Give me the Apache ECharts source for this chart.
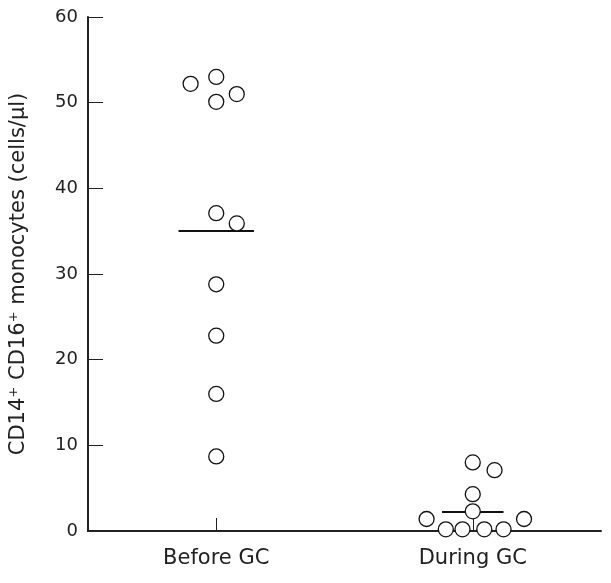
<!DOCTYPE html>
<html>
<head>
<meta charset="utf-8">
<script src="https://cdn.jsdelivr.net/npm/echarts@6/dist/echarts.min.js"></script>
<style>
  html, body { margin: 0; padding: 0; background: #fff; }
  #chart { width: 611px; height: 583px; }
</style>
</head>
<body>
<div id="chart"></div>
<script>
// groups, positioned at x = 1 and x = 2
const groups = ['Before GC', 'During GC']
const groupPos = [1, 2]

// before GC: horizontal offset from group centre (jitter) and value
const beforeOffset = [-0.1, 0, 0, 0.08, 0, 0.08, 0, 0, 0, 0]
const beforeValues = [52.2, 53.0, 50.1, 51.0, 37.1, 35.9, 28.8, 22.8, 16.0, 8.7]

// during GC
const duringOffset = [0, 0.085, 0, 0, -0.18, -0.105, -0.04, 0.045, 0.12, 0.2]
const duringValues = [8.0, 7.1, 4.3, 2.3, 1.4, 0.2, 0.2, 0.2, 0.2, 1.4]

// medians and half width of the median bar
const medians = [35, 2.2]
const medianHalf = [0.147, 0.12]

const font = 'DejaVu Sans, Liberation Sans, sans-serif'

const toPoints = (pos, offs, vals) => vals.map((v, i) => [pos + offs[i], v])

let myChart = echarts.init(document.getElementById('chart'))

const medianLines = medians.map((m, i) => [
  {coord: [groupPos[i] - medianHalf[i], m]},
  {coord: [groupPos[i] + medianHalf[i], m]}
])

const option = {
  animation: false,
  backgroundColor: '#fff',
  grid: {left: 87, right: 10, top: 17, bottom: 52},
  xAxis: {
    type: 'value',
    min: 0.5,
    max: 2.5,
    splitLine: {show: false},
    axisLine: {lineStyle: {color: '#222', width: 2}},
    axisTick: {show: true, inside: true, length: 13, customValues: groupPos, lineStyle: {color: '#222', width: 1}},
    axisLabel: {
      customValues: groupPos,
      formatter: v => groups[groupPos.indexOf(v)] || '',
      fontFamily: font,
      fontSize: 21,
      color: '#222',
      margin: 17
    }
  },
  yAxis: {
    type: 'value',
    min: 0,
    max: 60,
    interval: 10,
    name: 'CD14⁺ CD16⁺ monocytes (cells/µl)',
    nameLocation: 'middle',
    nameGap: 59,
    nameTextStyle: {fontFamily: font, fontSize: 21, color: '#222'},
    splitLine: {show: false},
    axisLine: {show: true, lineStyle: {color: '#222', width: 2}},
    axisTick: {show: true, inside: true, length: 15, lineStyle: {color: '#222', width: 1}},
    axisLabel: {
      fontFamily: font,
      fontSize: 18,
      color: '#222',
      margin: 10
    }
  },
  series: [
    {
      type: 'scatter',
      z: 3,
      symbol: 'circle',
      symbolSize: 15,
      itemStyle: {color: '#fff', borderColor: '#111', borderWidth: 1.3, opacity: 1},
      data: toPoints(groupPos[0], beforeOffset, beforeValues),
      markLine: {
        silent: true,
        symbol: 'none',
        label: {show: false},
        lineStyle: {color: '#111', width: 2, type: 'solid'},
        z: 1,
        data: medianLines
      }
    },
    {
      type: 'scatter',
      z: 3,
      symbol: 'circle',
      symbolSize: 15,
      itemStyle: {color: '#fff', borderColor: '#111', borderWidth: 1.3, opacity: 1},
      data: toPoints(groupPos[1], duringOffset, duringValues)
    }
  ]
}
myChart.setOption(option)
</script>
</body>
</html>
